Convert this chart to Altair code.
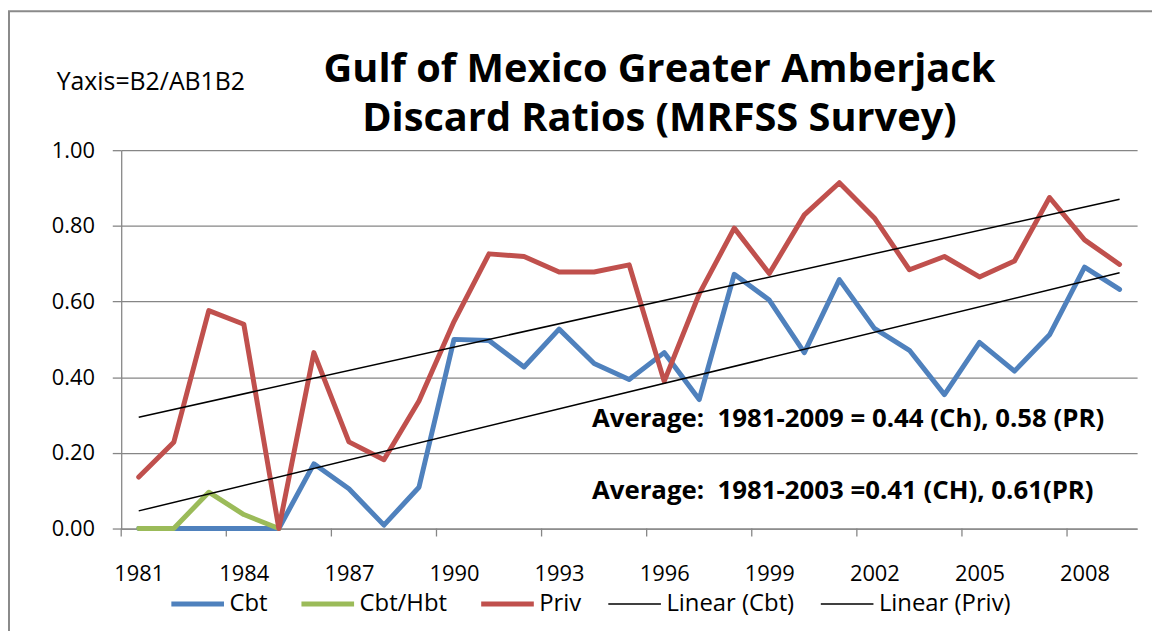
import altair as alt
import pandas as pd

years = [1981, 1982, 1983, 1984, 1985, 1986, 1987, 1988, 1989, 1990,
         1991, 1992, 1993, 1994, 1995, 1996, 1997, 1998, 1999, 2000,
         2001, 2002, 2003, 2004, 2005, 2006, 2007, 2008, 2009]
cbt = [0.0, 0.0, 0.0, 0.0, 0.0, 0.171, 0.105, 0.009, 0.109, 0.500,
       0.497, 0.427, 0.527, 0.436, 0.394, 0.465, 0.341, 0.672, 0.604, 0.465,
       0.658, 0.529, 0.471, 0.354, 0.492, 0.416, 0.512, 0.691, 0.632]
cbt_hbt_years = [1981, 1982, 1983, 1984, 1985]
cbt_hbt = [0.0, 0.0, 0.096, 0.037, 0.0]
priv = [0.136, 0.228, 0.576, 0.540, 0.0, 0.465, 0.229, 0.182, 0.337, 0.547,
        0.726, 0.719, 0.678, 0.678, 0.697, 0.389, 0.620, 0.794, 0.674, 0.829,
        0.914, 0.821, 0.684, 0.719, 0.665, 0.707, 0.875, 0.763, 0.698]

series_names = ["Cbt", "Cbt/Hbt", "Priv", "Linear (Cbt)", "Linear (Priv)"]
series_colors = ["#4F81BD", "#9BBB59", "#C0504D", "#000000", "#000000"]

title_lines = ["Gulf of Mexico Greater Amberjack", "Discard Ratios (MRFSS Survey)"]
y_note = "Yaxis=B2/AB1B2"
avg_notes = ["Average:\u00a0 1981-2009 = 0.44 (Ch), 0.58 (PR)",
             "Average:\u00a0 1981-2003 =0.41 (CH), 0.61(PR)"]
y_ticks = [0.0, 0.2, 0.4, 0.6, 0.8, 1.0]
x_label_years = [1981, 1984, 1987, 1990, 1993, 1996, 1999, 2002, 2005, 2008]
x_tick_bounds = [1980.5, 1983.5, 1986.5, 1989.5, 1992.5, 1995.5,
                 1998.5, 2001.5, 2004.5, 2007.5]

FONT = "Open Sans"
GREY = "#868686"

df_cbt = pd.DataFrame({"year": years, "value": cbt, "series": "Cbt"})
df_hbt = pd.DataFrame({"year": cbt_hbt_years, "value": cbt_hbt, "series": "Cbt/Hbt"})
df_priv = pd.DataFrame({"year": years, "value": priv, "series": "Priv"})
df_all = pd.concat([df_cbt, df_priv], ignore_index=True)
df_ticks = pd.DataFrame({"year": x_tick_bounds})

x_scale = alt.Scale(domain=[1980.5, 2009.5], nice=False, zero=False)
x_enc = alt.X(
    "year:Q", scale=x_scale,
    axis=alt.Axis(values=x_label_years, format="d", title=None, grid=False,
                  ticks=False, labelPadding=35, labelFlush=False,
                  labelOverlap=False),
)
y_enc = alt.Y(
    "value:Q",
    scale=alt.Scale(domain=[0, 1], nice=False),
    axis=alt.Axis(values=y_ticks, format=".2f", title=None, grid=True,
                  tickSize=9, labelPadding=18),
)
legend = alt.Legend(
    title=None, orient="none", legendX=65, legendY=445, direction="horizontal",
    symbolType="stroke", symbolSize=2809, labelFont=FONT, labelFontSize=24,
    labelColor="black", labelOffset=20, columnPadding=23, padding=0,
    symbolStrokeWidth=alt.ExprRef(
        expr="indexof(['Linear (Cbt)','Linear (Priv)'], datum.value) >= 0 ? 1.5 : 5"),
)
color_enc = alt.Color("series:N",
                      scale=alt.Scale(domain=series_names, range=series_colors),
                      legend=legend)

def series_line(df):
    return alt.Chart(df).mark_line(strokeWidth=5, strokeJoin="round",
                                   strokeCap="round").encode(
        x=x_enc, y=y_enc, color=color_enc)

line_cbt = series_line(df_cbt)
line_hbt = series_line(df_hbt)
line_priv = series_line(df_priv)

trend = alt.Chart(df_all).transform_regression(
    "year", "value", groupby=["series"]
).transform_calculate(
    series="'Linear (' + datum.series + ')'"
).mark_line(strokeWidth=1.5).encode(x=x_enc, y=y_enc, color=color_enc)

x_ticks = alt.Chart(df_ticks).mark_rule(color=GREY, strokeWidth=1.3).encode(
    x=x_enc, y=alt.value(381), y2=alt.value(389))

txt_df = pd.DataFrame({"t": [0]})

def text_layer(s, x, y, size, weight="normal", align="left"):
    return alt.Chart(txt_df).mark_text(
        text=s, font=FONT, fontSize=size, fontWeight=weight, align=align,
        baseline="alphabetic", color="black"
    ).encode(x=alt.value(x), y=alt.value(y))

t1 = text_layer(title_lines[0], 542, -69, 40, "bold", "center")
t2 = text_layer(title_lines[1], 542, -19, 40, "bold", "center")
t3 = text_layer(y_note, -65, -61, 25)
a1 = text_layer(avg_notes[0], 474, 279, 26, "bold")
a2 = text_layer(avg_notes[1], 474, 351, 26, "bold")

border = alt.Chart(txt_df).mark_rect(
    fillOpacity=0, stroke="#8a8a8a", strokeWidth=2
).encode(x=alt.value(-113), x2=alt.value(1050),
         y=alt.value(-140), y2=alt.value(520))

chart = alt.layer(
    x_ticks, line_cbt, line_hbt, line_priv, trend, t1, t2, t3, a1, a2, border
).properties(
    width=1023, height=381,
    autosize=alt.AutoSizeParams(type="none"),
    padding={"left": 114, "top": 141, "right": 15, "bottom": 101},
).configure_view(stroke=None).configure_axis(
    labelFont=FONT, labelFontSize=22, labelColor="black",
    domainColor=GREY, tickColor=GREY, gridColor=GREY, domainWidth=1.3,
    gridWidth=1.3, tickWidth=1.3,
)

chart.save("out.html", embed_options={"renderer": "svg", "actions": False})
